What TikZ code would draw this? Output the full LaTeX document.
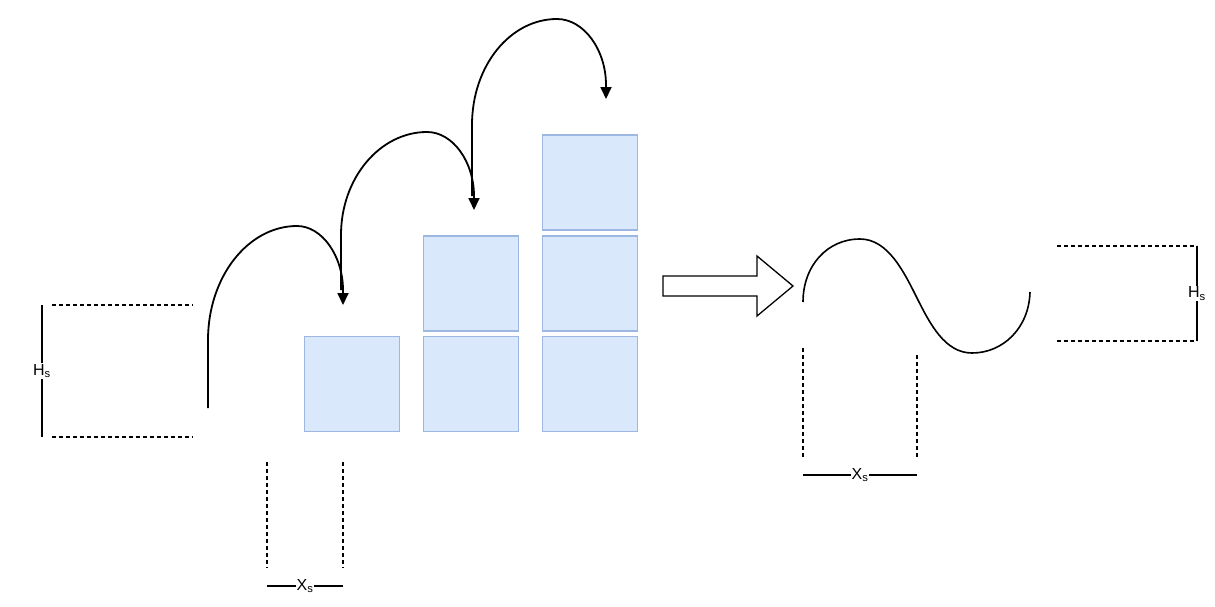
\documentclass[tikz,border=0pt]{standalone}
\usepackage{fontspec}
\setmainfont{Liberation Sans}
\usetikzlibrary{arrows.meta}
\definecolor{boxfill}{HTML}{DAE8FC}
\definecolor{boxline}{HTML}{9DB7E3}
\begin{document}
\begin{tikzpicture}[x=1pt,y=-1pt,
  blk/.style={draw=boxline,fill=boxfill,line width=1.2pt,minimum width=95pt,minimum height=95pt,inner sep=0pt},
  hop/.style={line width=1.8pt,-{Triangle[length=12pt,width=11pt]}},
  guide/.style={line width=1.2pt,dash pattern=on 4pt off 3pt},
  dim/.style={line width=1.4pt},
  lbl/.style={fill=white,inner sep=1pt,font=\fontsize{16}{18}\selectfont}]
\useasboundingbox (0,0) rectangle (1215,606);
% blocks
\node[blk] (b1)  at (352,384) {};
\node[blk] (b2a) at (471,384) {};
\node[blk] (b2b) at (471,283.5) {};
\node[blk] (b3a) at (590,384) {};
\node[blk] (b3b) at (590,283.5) {};
\node[blk] (b3c) at (590,182.5) {};
% hop arcs
\coordinate (s1) at (208,408);
\coordinate (t1) at (343,305);
\coordinate (s2) at (341,290);
\coordinate (t2) at (474,210);
\coordinate (s3) at (472,196);
\coordinate (t3) at (606,99);
\draw[hop] (s1) -- (208,340) .. controls (208,277) and (248,226) .. (297,226)
  .. controls (322,226) and (343,256) .. (343,290) -- (t1);
\draw[hop] (s2) -- (341,235) .. controls (341,178) and (380,132) .. (427,132)
  .. controls (453,132) and (474,162) .. (474,196) -- (t2);
\draw[hop] (s3) -- (472,125) .. controls (472,66) and (510,19) .. (557,19)
  .. controls (584,19) and (606,50) .. (606,85) -- (t3);
% left height guide
\coordinate (lh1) at (52,305);
\coordinate (lh2) at (193,305);
\coordinate (lh3) at (52,437);
\coordinate (lh4) at (193,437);
\draw[guide] (lh1) -- (lh2);
\draw[guide] (lh3) -- (lh4);
\coordinate (lv1) at (42,305);
\coordinate (lv2) at (42,437);
\draw[dim] (lv1) -- node[lbl] (lH) {H\textsubscript{s}} (lv2);
% left width guide
\coordinate (lw1) at (267,462);
\coordinate (lw2) at (267,568);
\coordinate (lw3) at (343,462);
\coordinate (lw4) at (343,568);
\draw[guide] (lw1) -- (lw2);
\draw[guide] (lw3) -- (lw4);
\coordinate (lx1) at (267,586);
\coordinate (lx2) at (343,586);
\draw[dim] (lx1) -- node[lbl] (lX) {X\textsubscript{s}} (lx2);
% big hollow arrow
\draw[line width=1.3pt,fill=white] (663,276) -- (757,276) -- (757,256) -- (793,286) -- (757,316) -- (757,296) -- (663,296) -- cycle;
% wave
\coordinate (w0) at (803,302);
\coordinate (wp) at (860,239);
\coordinate (wm) at (917,298);
\coordinate (wt) at (972,353);
\coordinate (we) at (1030,292);
\draw[line width=1.6pt] (w0) .. controls (803,266) and (827,239) .. (wp)
  .. controls (888,239) and (904,272) .. (wm)
  .. controls (930,324) and (945,353) .. (wt)
  .. controls (1003,353) and (1029,328) .. (we);
% right width guide
\coordinate (rw1) at (803,348);
\coordinate (rw2) at (803,458);
\coordinate (rw3) at (917,355);
\coordinate (rw4) at (917,458);
\draw[guide] (rw1) -- (rw2);
\draw[guide] (rw3) -- (rw4);
\coordinate (rx1) at (803,475);
\coordinate (rx2) at (917,475);
\draw[dim] (rx1) -- node[lbl] (rX) {X\textsubscript{s}} (rx2);
% right height guide
\coordinate (rh1) at (1057,246);
\coordinate (rh2) at (1197,246);
\coordinate (rh3) at (1057,341);
\coordinate (rh4) at (1197,341);
\draw[guide] (rh1) -- (rh2);
\draw[guide] (rh3) -- (rh4);
\coordinate (rv1) at (1197,246);
\coordinate (rv2) at (1197,341);
\draw[dim] (rv1) -- node[lbl] (rH) {H\textsubscript{s}} (rv2);
\end{tikzpicture}
\end{document}
